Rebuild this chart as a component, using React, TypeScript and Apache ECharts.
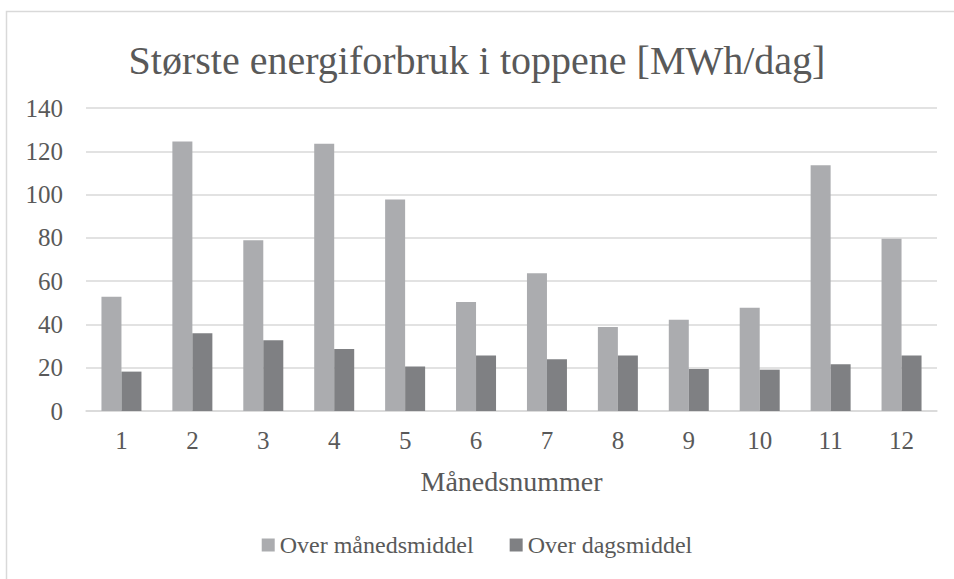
import React, { useEffect, useRef } from "react";
import * as echarts from "echarts";

const months = ["1", "2", "3", "4", "5", "6", "7", "8", "9", "10", "11", "12"];
const overManedsmiddel = [52.8, 124.5, 78.9, 123.5, 97.7, 50.4, 63.6, 38.8, 42.2, 47.7, 113.5, 79.6];
const overDagsmiddel = [18.2, 35.9, 32.7, 28.7, 20.6, 25.7, 23.9, 25.6, 19.4, 19.1, 21.6, 25.6];
const yTicks = { min: 0, max: 140, interval: 20 };

const FONT = "Liberation Serif";
const TEXT = "#595959";

export default function App() {
  const ref = useRef<HTMLDivElement>(null);
  useEffect(() => {
    if (!ref.current) return;
    const chart = echarts.init(ref.current, undefined, { renderer: "svg" });
    chart.setOption({
      animation: false,
      backgroundColor: "#ffffff",
      textStyle: { fontFamily: FONT, color: TEXT },
      title: {
        text: "Største energiforbruk i toppene [MWh/dag]",
        left: "center",
        top: 35,
        textStyle: { fontFamily: FONT, fontSize: 40, fontWeight: "normal", color: TEXT },
      },
      graphic: [
        {
          type: "rect",
          shape: { x: 6.5, y: 11.5, width: 1000, height: 1000 },
          style: { fill: "none", stroke: "#D9D9D9", lineWidth: 1.5 },
          silent: true,
        },
      ],
      legend: {
        bottom: 17,
        left: "center",
        itemWidth: 13,
        itemHeight: 13,
        itemGap: 36,
        icon: "rect",
        textStyle: { fontFamily: FONT, fontSize: 24, color: TEXT },
        data: ["Over månedsmiddel", "Over dagsmiddel"],
      },
      grid: { left: 86, right: 17, top: 108, bottom: 168, containLabel: false },
      xAxis: {
        type: "category",
        data: months,
        name: "Månedsnummer",
        nameLocation: "middle",
        nameGap: 56,
        nameTextStyle: { fontFamily: FONT, fontSize: 28, color: TEXT },
        axisLine: { lineStyle: { color: "#D9D9D9", width: 1.5 } },
        axisTick: { show: false },
        axisLabel: { fontFamily: FONT, fontSize: 25, color: TEXT, margin: 17 },
      },
      yAxis: {
        type: "value",
        min: yTicks.min,
        max: yTicks.max,
        interval: yTicks.interval,
        axisLine: { show: false },
        axisTick: { show: false },
        splitLine: { lineStyle: { color: "#D9D9D9", width: 1.5 } },
        axisLabel: { fontFamily: FONT, fontSize: 25, color: TEXT, margin: 23 },
      },
      series: [
        {
          name: "Over månedsmiddel",
          type: "bar",
          data: overManedsmiddel,
          barGap: "0%",
          barCategoryGap: "43.6%",
          itemStyle: { color: "#ABACAF" },
        },
        {
          name: "Over dagsmiddel",
          type: "bar",
          data: overDagsmiddel,
          barGap: "0%",
          barCategoryGap: "43.6%",
          itemStyle: { color: "#7F8083" },
        },
      ],
    });
    return () => chart.dispose();
  }, []);
  return (
    <div
      ref={ref}
      style={{ position: "fixed", left: 0, top: 0, width: 954, height: 579 }}
    />
  );
}
